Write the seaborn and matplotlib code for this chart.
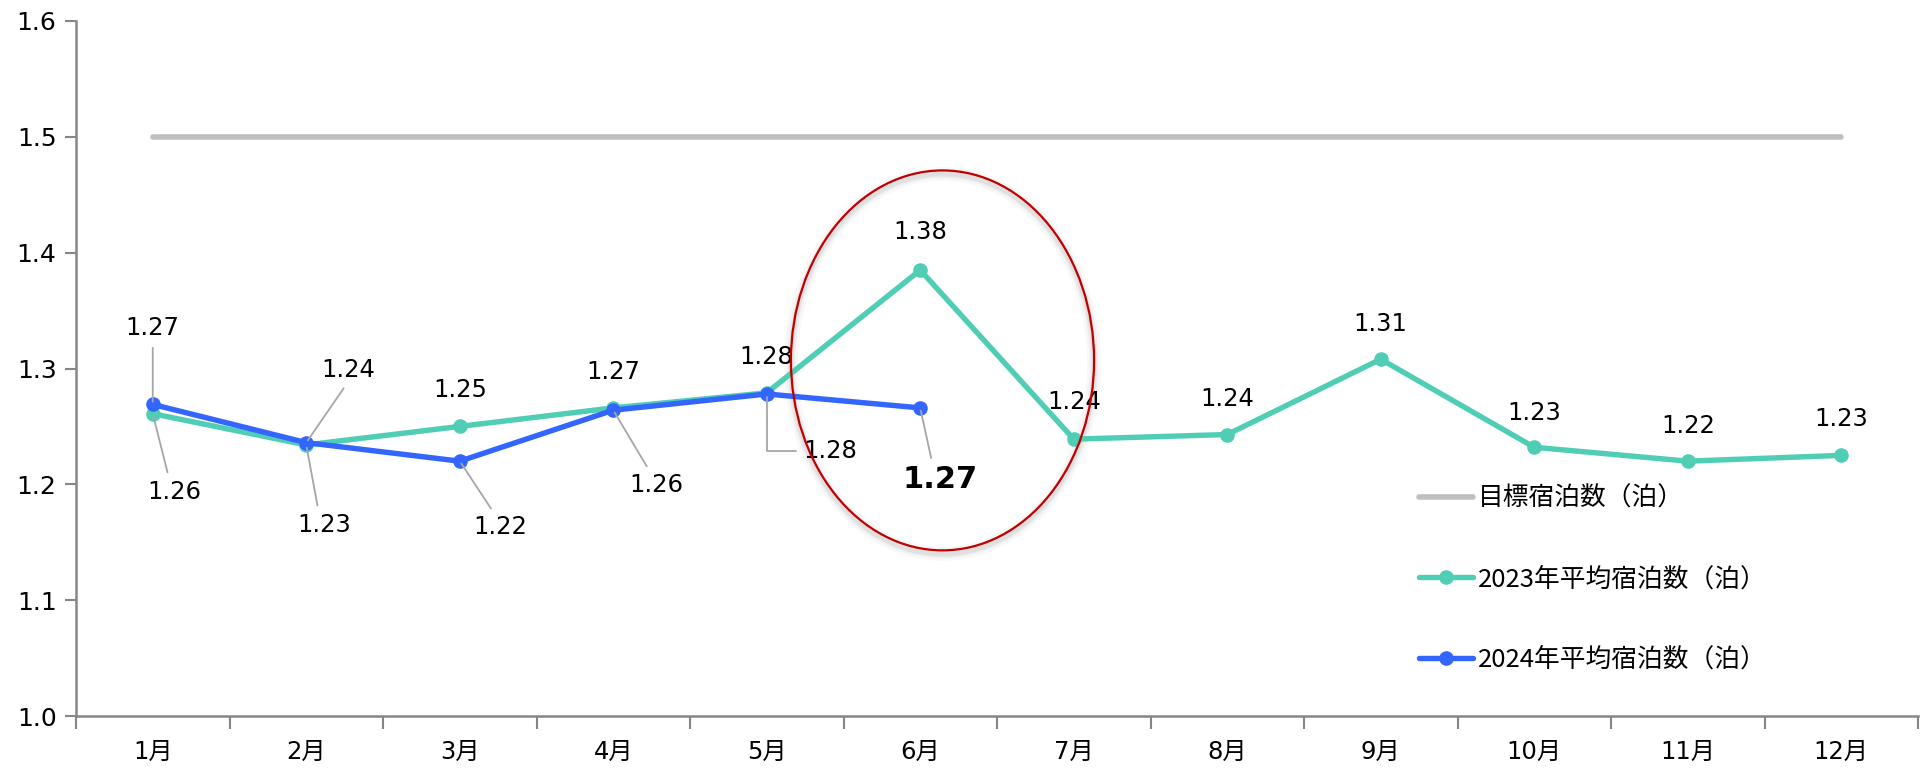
import matplotlib
matplotlib.use("Agg")
import matplotlib.pyplot as plt
from matplotlib.patches import Ellipse
from matplotlib.ticker import FixedLocator, NullFormatter
import seaborn as sns

# Chart data
months = ["1月", "2月", "3月", "4月", "5月", "6月", "7月", "8月", "9月", "10月", "11月", "12月"]
target = [1.5] * 12
avg_2023 = [1.261, 1.234, 1.250, 1.266, 1.279, 1.385, 1.239, 1.243, 1.308, 1.232, 1.220, 1.225]
avg_2024 = [1.269, 1.236, 1.220, 1.264, 1.278, 1.266]
labels_2023 = ["1.26", "1.23", "1.25", "1.27", "1.28", "1.38", "1.24", "1.24", "1.31", "1.23", "1.22", "1.23"]
labels_2024 = ["1.27", "1.24", "1.22", "1.26", "1.28", "1.27"]
series_names = ["目標宿泊数（泊）", "2023年平均宿泊数（泊）", "2024年平均宿泊数（泊）"]

# label offsets (pixels) from the point
off_2023 = [(22, 78), (18, 80), (0, -36), (0, -36), (0, -36), (0, -38),
            (0, -37), (0, -36), (0, -35), (0, -34), (0, -35), (0, -36)]
lead_2023 = [True, True, False, False, False, False, False, False, False, False, False, False]
off_2024 = [(0, -76), (42, -73), (41, 66), (43, 75), (64, 57), (20, 72)]

sns.set_theme(style="white")
plt.rcParams["font.family"] = ["DejaVu Sans", "Noto Sans CJK JP"]
plt.rcParams["text.color"] = "black"
plt.rcParams["xtick.color"] = "black"
plt.rcParams["ytick.color"] = "black"

teal = "#4FCDB5"
blue = "#3366FF"
grey = "#BFBFBF"

fig = plt.figure(figsize=(19.30, 7.69), dpi=100)
ax = fig.add_axes([76 / 1930, 1 - 716 / 769, (1918 - 76) / 1930, (716 - 21) / 769])

idx = list(range(len(months)))
sns.lineplot(x=idx, y=target, ax=ax, color=grey, linewidth=4.0, label=series_names[0])
sns.lineplot(x=idx, y=avg_2023, ax=ax, color=teal, linewidth=3.9, marker="o",
             markersize=10.5, markeredgewidth=0, label=series_names[1])
sns.lineplot(x=idx[:len(avg_2024)], y=avg_2024, ax=ax, color=blue, linewidth=3.9, marker="o",
             markersize=10.5, markeredgewidth=0, label=series_names[2])

lead = dict(arrowstyle="-", color="#A6A6A6", lw=1.3, shrinkA=3, shrinkB=2)
fs = 17.5

for i, (v, t) in enumerate(zip(avg_2023, labels_2023)):
    dx, dy = off_2023[i]
    if lead_2023[i]:
        ax.annotate(t, (i, v), xytext=(dx, -dy), textcoords="offset pixels",
                    ha="center", va="center", fontsize=fs,
                    arrowprops=dict(lead, relpos=(0.4, 1.0)))
    else:
        ax.annotate(t, (i, v), xytext=(dx, -dy), textcoords="offset pixels",
                    ha="center", va="center", fontsize=fs)

for i, (v, t) in enumerate(zip(avg_2024, labels_2024)):
    dx, dy = off_2024[i]
    rel = (0.5, 0.0) if dy < 0 else (0.4, 1.0)
    props = dict(lead, relpos=rel)
    kw = dict(fontsize=fs)
    if i == 4:
        props = dict(lead, relpos=(0.0, 0.5), connectionstyle="angle,angleA=0,angleB=90,rad=0")
    if i == 5:
        kw = dict(fontsize=22, fontweight="bold")
    ax.annotate(t, (i, v), xytext=(dx, -dy), textcoords="offset pixels",
                ha="center", va="center", arrowprops=props, **kw)

# highlight ellipse around June
ex, ey, ew, eh = 5.145, 1.307, 1.975, 0.328
for lw, a in [(10, 0.05), (6, 0.08), (3.5, 0.12)]:
    ax.add_patch(Ellipse((ex, ey - 0.003), ew, eh, fill=False, edgecolor="#808080",
                         linewidth=lw, alpha=a, zorder=1))
ax.add_patch(Ellipse((ex, ey), ew, eh, fill=False, edgecolor="#C00000", linewidth=1.6, zorder=5))

ax.set_xlim(-0.5, 11.5)
ax.set_ylim(1.0, 1.6)
ax.set_yticks([1.0, 1.1, 1.2, 1.3, 1.4, 1.5, 1.6])
ax.set_yticklabels(["1.0", "1.1", "1.2", "1.3", "1.4", "1.5", "1.6"])
ax.xaxis.set_major_locator(FixedLocator([i - 0.5 for i in range(13)]))
ax.xaxis.set_major_formatter(NullFormatter())
ax.xaxis.set_minor_locator(FixedLocator(idx))
ax.set_xticklabels(months, minor=True)
ax.tick_params(axis="x", which="major", length=9, width=1.5, color="#868686", direction="out", bottom=True)
ax.tick_params(axis="x", which="minor", length=0, pad=17, labelsize=17.5)
ax.tick_params(axis="y", length=8, width=1.5, color="#868686", direction="out", left=True,
               labelsize=18, pad=6)

for s in ["top", "right"]:
    ax.spines[s].set_visible(False)
for s in ["left", "bottom"]:
    ax.spines[s].set_color("#868686")
    ax.spines[s].set_linewidth(1.8)

ax.set_xlabel("")
ax.set_ylabel("")

ax.legend(loc="upper left", bbox_to_anchor=(1419 / 1930, 1 - 486 / 769), bbox_transform=fig.transFigure,
          frameon=False, prop={"family": ["Noto Sans CJK JP", "DejaVu Sans"], "size": 18.5},
          handlelength=2.1, handletextpad=0.2, labelspacing=2.12,
          borderpad=0, borderaxespad=0)

fig.savefig("out.png", dpi=100)
